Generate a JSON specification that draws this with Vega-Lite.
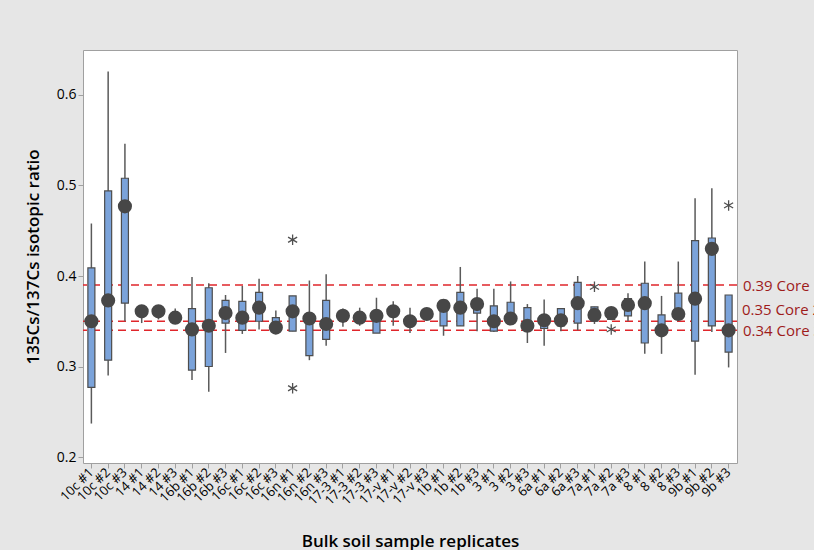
{
  "$schema": "https://vega.github.io/schema/vega-lite/v6.json",
  "width": 654,
  "height": 413,
  "autosize": {"type": "none"},
  "padding": {"left": 83, "top": 50, "right": 77, "bottom": 87},
  "background": "#e6e6e6",
  "view": {"fill": "white", "stroke": "#a0a0a0", "strokeWidth": 1},
  "config": {"font": "Open Sans"},
  "datasets": {
    "stats": [
      {"cat": "10c #1", "lo": 0.237, "q1": 0.277, "q3": 0.409, "hi": 0.458, "mean": 0.350},
      {"cat": "10c #2", "lo": 0.290, "q1": 0.307, "q3": 0.494, "hi": 0.626, "mean": 0.373},
      {"cat": "10c #3", "lo": 0.350, "q1": 0.370, "q3": 0.508, "hi": 0.546, "mean": 0.477},
      {"cat": "14 #1", "lo": 0.348, "q1": 0.356, "q3": 0.364, "hi": 0.368, "mean": 0.361},
      {"cat": "14 #2", "lo": 0.352, "q1": 0.357, "q3": 0.364, "hi": 0.367, "mean": 0.361},
      {"cat": "14 #3", "lo": 0.350, "q1": 0.351, "q3": 0.358, "hi": 0.364, "mean": 0.354},
      {"cat": "16b #1", "lo": 0.285, "q1": 0.296, "q3": 0.364, "hi": 0.399, "mean": 0.341},
      {"cat": "16b #2", "lo": 0.272, "q1": 0.300, "q3": 0.387, "hi": 0.392, "mean": 0.345},
      {"cat": "16b #3", "lo": 0.315, "q1": 0.348, "q3": 0.373, "hi": 0.379, "mean": 0.359},
      {"cat": "16c #1", "lo": 0.336, "q1": 0.340, "q3": 0.372, "hi": 0.389, "mean": 0.354},
      {"cat": "16c #2", "lo": 0.341, "q1": 0.350, "q3": 0.382, "hi": 0.397, "mean": 0.365},
      {"cat": "16c #3", "lo": 0.338, "q1": 0.340, "q3": 0.354, "hi": 0.362, "mean": 0.343},
      {"cat": "16n #1", "lo": 0.339, "q1": 0.339, "q3": 0.378, "hi": 0.378, "mean": 0.361},
      {"cat": "16n #2", "lo": 0.307, "q1": 0.312, "q3": 0.357, "hi": 0.395, "mean": 0.353},
      {"cat": "16n #3", "lo": 0.323, "q1": 0.330, "q3": 0.373, "hi": 0.402, "mean": 0.347},
      {"cat": "17-3 #1", "lo": 0.344, "q1": 0.352, "q3": 0.360, "hi": 0.364, "mean": 0.356},
      {"cat": "17-3 #2", "lo": 0.345, "q1": 0.350, "q3": 0.358, "hi": 0.365, "mean": 0.354},
      {"cat": "17-3 #3", "lo": 0.337, "q1": 0.337, "q3": 0.360, "hi": 0.376, "mean": 0.356},
      {"cat": "17-v #1", "lo": 0.345, "q1": 0.355, "q3": 0.366, "hi": 0.372, "mean": 0.361},
      {"cat": "17-v #2", "lo": 0.337, "q1": 0.345, "q3": 0.355, "hi": 0.365, "mean": 0.350},
      {"cat": "17-v #3", "lo": 0.353, "q1": 0.353, "q3": 0.360, "hi": 0.360, "mean": 0.358},
      {"cat": "1b #1", "lo": 0.334, "q1": 0.345, "q3": 0.373, "hi": 0.374, "mean": 0.367},
      {"cat": "1b #2", "lo": 0.345, "q1": 0.345, "q3": 0.382, "hi": 0.410, "mean": 0.365},
      {"cat": "1b #3", "lo": 0.339, "q1": 0.359, "q3": 0.372, "hi": 0.386, "mean": 0.369},
      {"cat": "3 #1", "lo": 0.338, "q1": 0.339, "q3": 0.367, "hi": 0.386, "mean": 0.350},
      {"cat": "3 #2", "lo": 0.349, "q1": 0.349, "q3": 0.371, "hi": 0.394, "mean": 0.353},
      {"cat": "3 #3", "lo": 0.326, "q1": 0.340, "q3": 0.365, "hi": 0.369, "mean": 0.345},
      {"cat": "6a #1", "lo": 0.323, "q1": 0.342, "q3": 0.356, "hi": 0.374, "mean": 0.351},
      {"cat": "6a #2", "lo": 0.339, "q1": 0.345, "q3": 0.364, "hi": 0.364, "mean": 0.351},
      {"cat": "6a #3", "lo": 0.340, "q1": 0.348, "q3": 0.393, "hi": 0.400, "mean": 0.370},
      {"cat": "7a #1", "lo": 0.347, "q1": 0.350, "q3": 0.366, "hi": 0.366, "mean": 0.357},
      {"cat": "7a #2", "lo": 0.352, "q1": 0.352, "q3": 0.363, "hi": 0.363, "mean": 0.359},
      {"cat": "7a #3", "lo": 0.350, "q1": 0.356, "q3": 0.375, "hi": 0.381, "mean": 0.368},
      {"cat": "8 #1", "lo": 0.314, "q1": 0.326, "q3": 0.392, "hi": 0.416, "mean": 0.370},
      {"cat": "8 #2", "lo": 0.314, "q1": 0.337, "q3": 0.357, "hi": 0.378, "mean": 0.340},
      {"cat": "8 #3", "lo": 0.350, "q1": 0.352, "q3": 0.381, "hi": 0.416, "mean": 0.358},
      {"cat": "9b #1", "lo": 0.291, "q1": 0.328, "q3": 0.439, "hi": 0.486, "mean": 0.375},
      {"cat": "9b #2", "lo": 0.338, "q1": 0.345, "q3": 0.442, "hi": 0.497, "mean": 0.430},
      {"cat": "9b #3", "lo": 0.299, "q1": 0.316, "q3": 0.379, "hi": 0.379, "mean": 0.340}
    ],
    "outliers": [
      {"cat": "16n #1", "v": 0.440},
      {"cat": "16n #1", "v": 0.276},
      {"cat": "7a #1", "v": 0.388},
      {"cat": "7a #2", "v": 0.341},
      {"cat": "9b #3", "v": 0.478}
    ],
    "refs": [
      {"v": 0.39, "label": "0.39 Core 1", "grp": "a"},
      {"v": 0.35, "label": "0.35 Core 2", "grp": "b"},
      {"v": 0.34, "label": "0.34 Core 3", "grp": "a"}
    ]
  },
  "encoding": {
    "x": {
      "field": "cat",
      "type": "nominal",
      "sort": null,
      "scale": {"paddingInner": 0, "paddingOuter": 0},
      "axis": {
        "title": "Bulk soil sample replicates",
        "titleFontSize": 17,
        "titleFontWeight": 600,
        "titleColor": "#000000",
        "titleY": 83,
        "titleBaseline": "alphabetic",
        "labelAngle": -45,
        "labelAlign": "right",
        "labelBaseline": "middle",
        "labelFontSize": 13,
        "labelColor": "#000000",
        "labelPadding": 2,
        "tickColor": "#a0a0a0",
        "tickSize": 5,
        "domain": false
      }
    }
  },
  "layer": [
    {
      "data": {"name": "refs"},
      "mark": {"type": "rule", "color": "#e0262b", "strokeWidth": 1.6, "strokeDash": [8, 5]},
      "encoding": {
        "x": null,
        "y": {
          "field": "v",
          "type": "quantitative",
          "scale": {"domain": [0.1934, 0.6497], "nice": false, "zero": false},
          "axis": {
            "title": "135Cs/137Cs isotopic ratio",
            "titleFontSize": 17,
            "titleFontWeight": 600,
            "titleColor": "#000000",
            "titlePadding": 14,
            "values": [0.2, 0.3, 0.4, 0.5, 0.6],
            "format": ".1f",
            "labelFontSize": 14,
            "labelColor": "#000000",
            "tickColor": "#a0a0a0",
            "tickSize": 5,
            "grid": false,
            "domain": false
          }
        }
      }
    },
    {
      "data": {"name": "stats"},
      "mark": {"type": "rule", "color": "#5a5a5a", "strokeWidth": 1.5},
      "encoding": {
        "y": {"field": "lo", "type": "quantitative"},
        "y2": {"field": "hi"}
      }
    },
    {
      "data": {"name": "stats"},
      "mark": {"type": "bar", "size": 7, "fill": "#7ba3da", "stroke": "#4d4d4d", "strokeWidth": 1.2},
      "encoding": {
        "y": {"field": "q1", "type": "quantitative"},
        "y2": {"field": "q3"}
      }
    },
    {
      "data": {"name": "stats"},
      "mark": {"type": "point", "filled": true, "size": 200, "color": "#474747", "opacity": 1},
      "encoding": {
        "y": {"field": "mean", "type": "quantitative"}
      }
    },
    {
      "data": {"name": "outliers"},
      "mark": {
        "type": "point",
        "shape": "M0,-1L0,1M-0.866,-0.5L0.866,0.5M-0.866,0.5L0.866,-0.5",
        "filled": false,
        "size": 110,
        "stroke": "#505050",
        "strokeWidth": 1.3,
        "opacity": 1
      },
      "encoding": {
        "y": {"field": "v", "type": "quantitative"}
      }
    },
    {
      "data": {"name": "refs"},
      "transform": [{"filter": "datum.grp === 'a'"}],
      "mark": {"type": "text", "align": "left", "baseline": "middle", "dx": 6, "dy": 1, "fontSize": 15, "color": "#9e1b1b"},
      "encoding": {
        "x": {"value": "width"},
        "y": {"field": "v", "type": "quantitative"},
        "text": {"field": "label"}
      }
    },
    {
      "data": {"name": "refs"},
      "transform": [{"filter": "datum.grp === 'b'"}],
      "mark": {"type": "text", "align": "left", "baseline": "middle", "dx": 5, "dy": -11, "fontSize": 15, "color": "#9e1b1b"},
      "encoding": {
        "x": {"value": "width"},
        "y": {"field": "v", "type": "quantitative"},
        "text": {"field": "label"}
      }
    }
  ]
}
